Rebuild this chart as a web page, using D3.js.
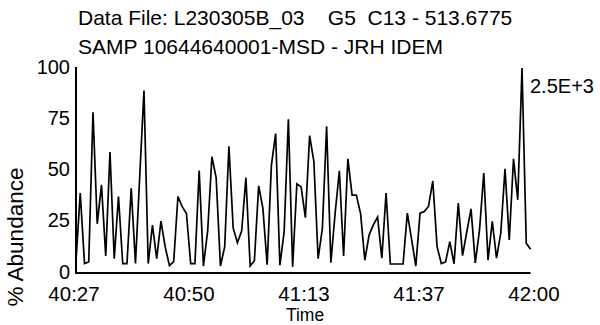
<!DOCTYPE html>
<html>
<head>
<meta charset="utf-8">
<script src="https://cdn.jsdelivr.net/npm/d3@7"></script>
<style>
  html, body { margin: 0; padding: 0; background: #fff; }
  svg { display: block; }
  text { font-family: "Liberation Sans", Arial, sans-serif; fill: #000; white-space: pre; }
</style>
</head>
<body>
<svg id="chart" width="600" height="325"></svg>
<script>
// ---- data ----
const titleLines = ["Data File: L230305B_03    G5  C13 - 513.6775", "SAMP 10644640001-MSD - JRH IDEM"];
const scaleNote = "2.5E+3";
const yTickValues = [0, 25, 50, 75, 100];
const xTickTimes = [2427, 2450.25, 2473.5, 2496.75, 2520];   // seconds
const xTickLabels = ["40:27", "40:50", "41:13", "41:37", "42:00"];
const timeStart = 2427, timeEnd = 2520;                      // 40:27 .. 42:00
const abundance = [
  6, 39, 4.6, 5.4, 78.4, 24, 43, 8.3, 59, 7,
  37.3, 4.6, 4.6, 41.3, 4.6, 47, 89, 4.6, 23.4, 7,
  25.3, 12.7, 3.6, 5.6, 37.3, 32.4, 29, 4.6, 4.6, 50,
  3.4, 20.5, 56.7, 46.4, 3.4, 12.7, 61.8, 22, 14.8, 20.5,
  46.5, 3.4, 6, 42.5, 31.5, 4, 52.5, 68, 3.8, 20,
  75, 3, 43.5, 42, 27, 67, 54.4, 7, 21.7, 71.6,
  5, 29, 49.8, 8.3, 55.7, 38, 38, 29, 6.2, 18.5,
  23.5, 27.3, 7.2, 39, 4.4, 4.4, 4.4, 4.4, 29.2, 16.5,
  3.4, 29.2, 30, 32.6, 44.9, 13, 4.6, 5.4, 15.3, 4.5,
  34.1, 8.5, 20, 31.3, 4.9, 21, 48.8, 6.3, 25.2, 7.3,
  19.4, 50.8, 16.1, 55.7, 35.7, 100, 14.5, 11.6
];
const scans = d3.range(abundance.length);

// ---- layout ----
const svg = d3.select("#chart");
const plotL = 76, plotR = 530.5, plotT = 68, plotB = 273;

const x = d3.scaleLinear().domain([0, scans.length - 1]).range([plotL, plotR]);
const xTime = d3.scaleLinear().domain([timeStart, timeEnd]).range([plotL - 2, plotR + 3.5]);
const y = d3.scaleLinear().domain([0, 100]).range([plotB, plotT]);

// titles
svg.selectAll("text.title").data(titleLines).join("text")
  .attr("class", "title")
  .attr("x", 78)
  .attr("y", (d, i) => 25 + i * 29)
  .style("font-size", "21px")
  .text(d => d);

// axes lines
svg.append("line").attr("x1", plotL).attr("x2", plotL).attr("y1", plotT - 1).attr("y2", plotB + 1)
  .attr("stroke", "#000").attr("stroke-width", 2);
svg.append("line").attr("x1", plotL - 1).attr("x2", plotR).attr("y1", plotB).attr("y2", plotB)
  .attr("stroke", "#000").attr("stroke-width", 2);

// y tick labels (no tick marks)
svg.selectAll("text.ytick").data(yTickValues).join("text")
  .attr("class", "ytick")
  .attr("x", plotL - 6)
  .attr("y", d => y(d))
  .attr("dy", "0.28em")
  .attr("text-anchor", "end")
  .style("font-size", "20px")
  .text(d => d);

// x tick labels
svg.selectAll("text.xtick").data(xTickTimes).join("text")
  .attr("class", "xtick")
  .attr("x", d => xTime(d))
  .attr("y", 301)
  .attr("text-anchor", "middle")
  .style("font-size", "20.5px")
  .text((d, i) => xTickLabels[i]);

// axis titles
svg.append("text")
  .attr("x", 305).attr("y", 321.3)
  .attr("text-anchor", "middle")
  .style("font-size", "17.5px")
  .text("Time");
svg.append("text")
  .attr("transform", "translate(23,237) rotate(-90)")
  .attr("text-anchor", "middle")
  .style("font-size", "22.5px")
  .text("% Abundance");

// scale note
svg.append("text")
  .attr("x", 530).attr("y", 93)
  .style("font-size", "20px")
  .text(scaleNote);

// trace
const line = d3.line().x(i => x(i)).y(i => y(abundance[i]));
svg.append("path")
  .datum(scans)
  .attr("d", line)
  .attr("fill", "none")
  .attr("stroke", "#000")
  .attr("stroke-width", 1.7)
  .attr("stroke-linejoin", "miter");
</script>
</body>
</html>
